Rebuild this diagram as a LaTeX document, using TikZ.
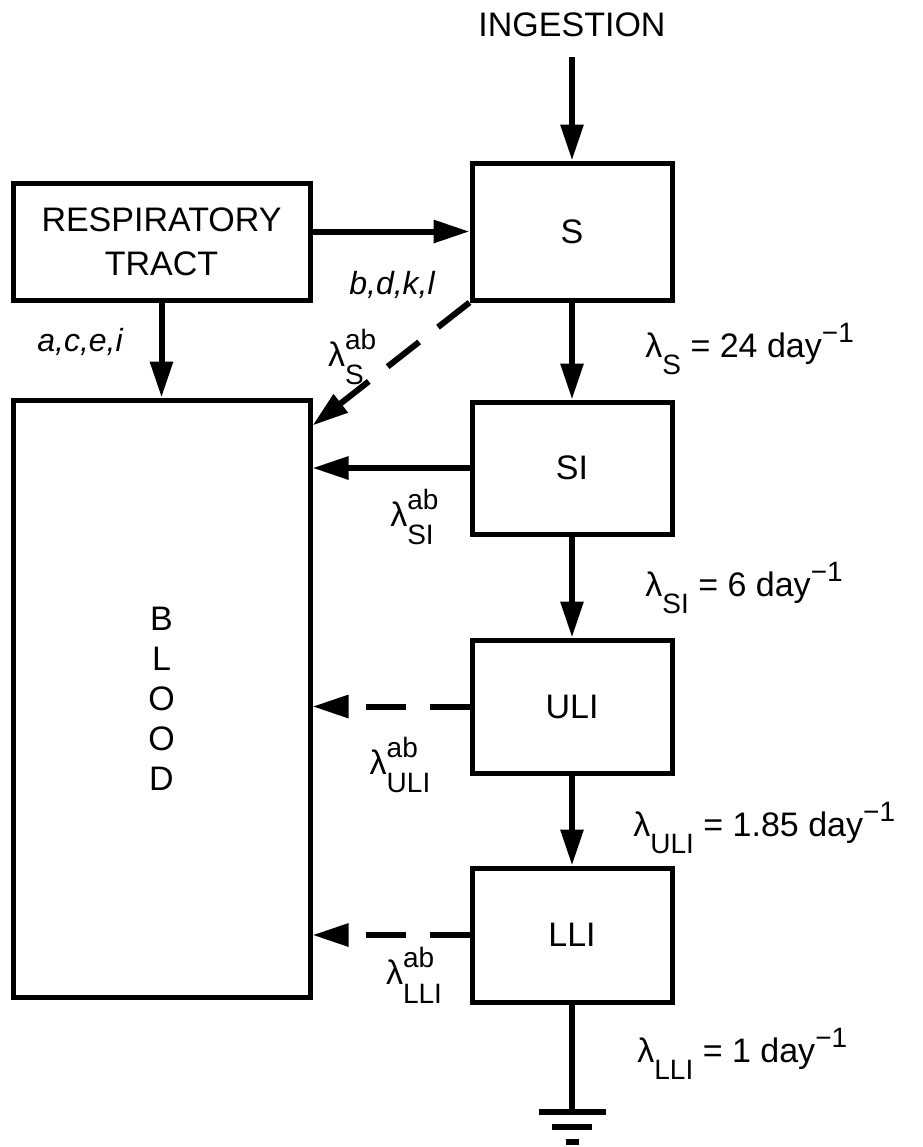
\documentclass[tikz,border=0pt]{standalone}
\usepackage{amsmath}
\usepackage{fontspec}
\setmainfont{Liberation Sans}
\usetikzlibrary{arrows.meta}

% rate labels
\newcommand{\lamab}[1]{λ\makebox[0pt][l]{\raisebox{0.5em}{\fontsize{14}{14}\selectfont ab}}\raisebox{-0.55em}{\fontsize{14}{14}\selectfont #1}}
\newcommand{\lamrate}[2]{λ\raisebox{-0.5em}{\fontsize{14}{14}\selectfont #1} = #2 day\raisebox{0.45em}{\fontsize{14}{14}\selectfont −1}}

\begin{document}
\begin{tikzpicture}[x=0.5pt, y=-0.5pt,
    box/.style={draw, line width=2.5pt, inner sep=0pt, align=center, font=\fontsize{17}{22}\selectfont},
    flow/.style={line width=3pt, -{Triangle[length=18pt,width=11pt]}},
    leak/.style={flow, dash pattern=on 20pt off 12pt},
    lbl/.style={inner sep=0pt, font=\fontsize{17}{20}\selectfont},
    path/.style={inner sep=0pt, font=\fontsize{16}{20}\selectfont\itshape}]
    \useasboundingbox (0,0) rectangle (922,1147);

    % Compartments
    \node[box, minimum width=148.5pt, minimum height=58.5pt] (rt) at (161.5,241.5) {RESPIRATORY\\TRACT};
    \node[box, minimum width=148.5pt, minimum height=298.5pt, font=\fontsize{17}{20}\selectfont] (blood) at (161.5,698.5) {B\\L\\O\\O\\D};
    \node[box, minimum width=100pt, minimum height=68.5pt] (s) at (572,231.5) {S};
    \node[box, minimum width=100pt, minimum height=66pt] (si) at (572,468) {SI};
    \node[box, minimum width=100pt, minimum height=66.5pt] (uli) at (572,706.5) {ULI};
    \node[box, minimum width=100pt, minimum height=67pt] (lli) at (572,935) {LLI};
    \node[lbl] (ingest) at (572,25) {INGESTION};
    \coordinate (gnd) at (572,1112);

    % Transfers between compartments
    \draw[flow] ([yshift=-10pt]ingest.south) -- (s.north);
    \draw[flow] (rt.east |- s.west) -- (s.west);
    \draw[flow] (rt.south) -- (rt.south |- blood.north);
    \draw[leak] (s.south west) -- ([yshift=-14pt]blood.north east);
    \draw[flow] (si.west) -- (si.west -| blood.east);
    \draw[leak] (uli.west) -- (uli.west -| blood.east);
    \draw[leak] (lli.west) -- (lli.west -| blood.east);
    \draw[flow] (s.south) -- (si.north);
    \draw[flow] (si.south) -- (uli.north);
    \draw[flow] (uli.south) -- (lli.north);

    % Excretion to ground
    \draw[line width=3pt] (lli.south) -- (gnd);
    \draw[line width=3pt] ([xshift=-16.75pt]gnd) -- ([xshift=16.75pt]gnd)
        ([xshift=-10pt,yshift=-7.5pt]gnd) -- ([xshift=10pt,yshift=-7.5pt]gnd)
        ([xshift=-3.25pt,yshift=-15pt]gnd) -- ([xshift=3.25pt,yshift=-15pt]gnd);

    % Labels
    \node[path] (acei) at (80,342) {a,c,e,i};
    \node[path] (bdkl) at (392,285) {b,d,k,l};
    \node[lbl] (abs) at (346,357) {\lamab{S}};
    \node[lbl] (absi) at (412,517) {\lamab{SI}};
    \node[lbl] (abuli) at (400,765) {\lamab{ULI}};
    \node[lbl] (ablli) at (414,975) {\lamab{LLI}};
    \node[lbl, anchor=west] (rs) at (645,349) {\lamrate{S}{24}};
    \node[lbl, anchor=west] (rsi) at (645,588) {\lamrate{SI}{6}};
    \node[lbl, anchor=west] (ruli) at (633,828) {\lamrate{ULI}{1.85}};
    \node[lbl, anchor=west] (rlli) at (637,1054) {\lamrate{LLI}{1}};
\end{tikzpicture}
\end{document}
